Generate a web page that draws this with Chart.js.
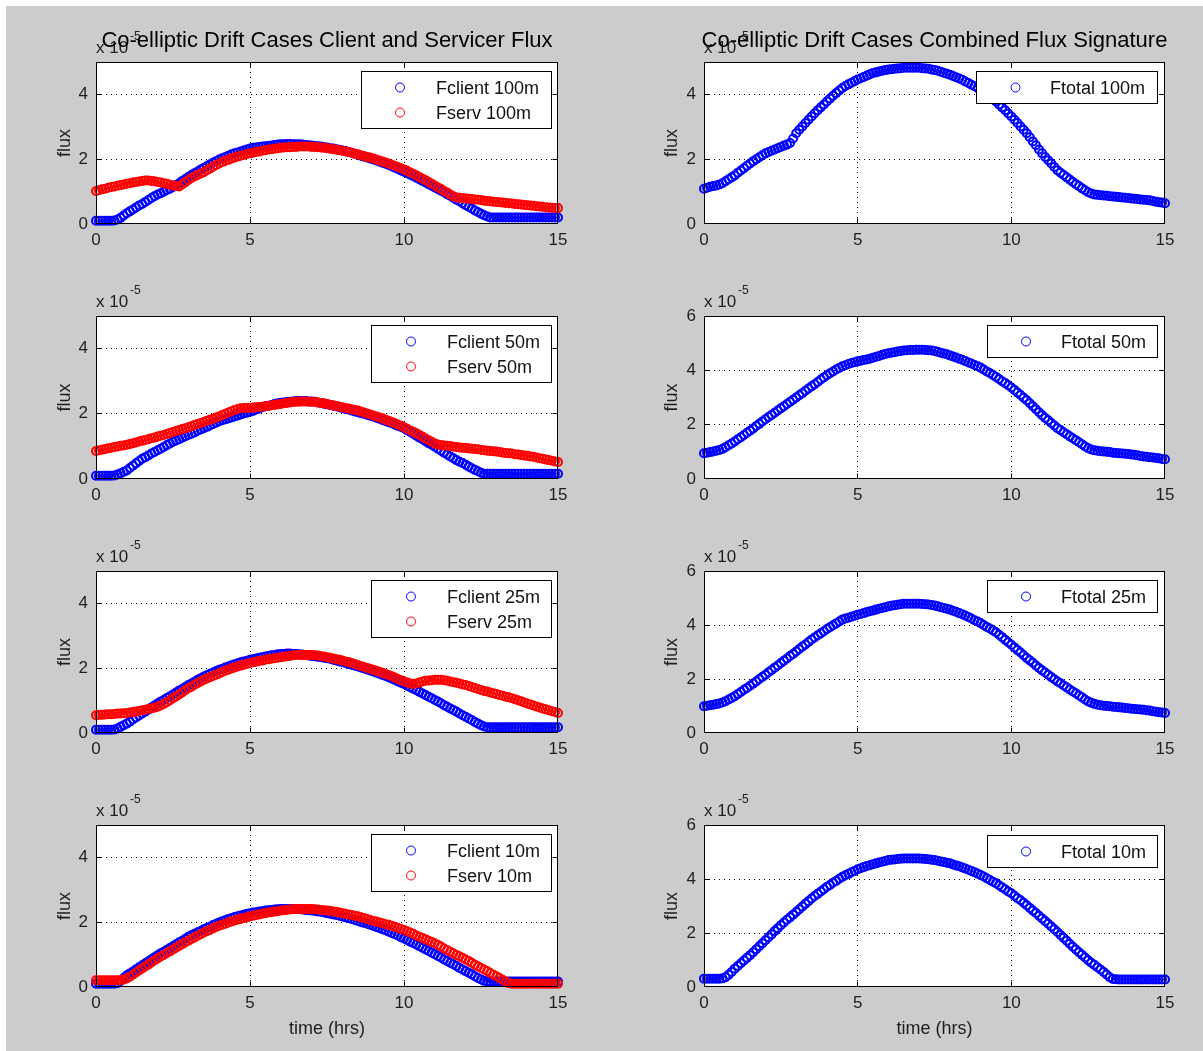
<!DOCTYPE html>
<html>
<head>
<meta charset="utf-8">
<script src="https://cdn.jsdelivr.net/npm/chart.js@4.4.0/dist/chart.umd.min.js"></script>
<style>
html,body{margin:0;padding:0;background:#fff;width:1203px;height:1051px;overflow:hidden;position:relative}
#bg{position:absolute;left:6px;top:6px;width:1197px;height:1045px;background:#cccccc}
.wrap{position:absolute}
.wrap canvas{display:block}
#ov{position:absolute;left:0;top:0;pointer-events:none}
#ov text{font-family:"Liberation Sans",Arial,Helvetica,sans-serif}
</style>
</head>
<body>
<div id="bg"></div>
<div id="charts"></div>
<svg id="ov" width="1203" height="1051" xmlns="http://www.w3.org/2000/svg"></svg>
<script>
// ---------- data (flux in units of 1e-5) ----------
const hours = [
0,0.1,0.2,0.3,0.4,0.5,0.6,0.7,0.8,0.9,
1,1.1,1.2,1.3,1.4,1.5,1.6,1.7,1.8,1.9,
2,2.1,2.2,2.3,2.4,2.5,2.6,2.7,2.8,2.9,
3,3.1,3.2,3.3,3.4,3.5,3.6,3.7,3.8,3.9,
4,4.1,4.2,4.3,4.4,4.5,4.6,4.7,4.8,4.9,
5,5.1,5.2,5.3,5.4,5.5,5.6,5.7,5.8,5.9,
6,6.1,6.2,6.3,6.4,6.5,6.6,6.7,6.8,6.9,
7,7.1,7.2,7.3,7.4,7.5,7.6,7.7,7.8,7.9,
8,8.1,8.2,8.3,8.4,8.5,8.6,8.7,8.8,8.9,
9,9.1,9.2,9.3,9.4,9.5,9.6,9.7,9.8,9.9,
10,10.1,10.2,10.3,10.4,10.5,10.6,10.7,10.8,10.9,
11,11.1,11.2,11.3,11.4,11.5,11.6,11.7,11.8,11.9,
12,12.1,12.2,12.3,12.4,12.5,12.6,12.7,12.8,12.9,
13,13.1,13.2,13.3,13.4,13.5,13.6,13.7,13.8,13.9,
14,14.1,14.2,14.3,14.4,14.5,14.6,14.7,14.8,14.9,
15];

const xTicks = [0,5,10,15];
const yTicksLow = [0,2,4];
const yTicksHigh = [0,2,4,6];

const fclient100 = [
0.10,0.10,0.10,0.10,0.10,0.10,0.11,
0.14,0.19,0.26,0.33,
0.39,0.45,0.51,0.57,0.62, 0.68,0.74,0.80,0.86,0.91,
0.95,1.00,1.05,1.09,1.14, 1.20,1.26,1.33,1.39,1.45,
1.51,1.57,1.62,1.68,1.73, 1.78,1.84,1.89,1.94,1.99,
2.03,2.07,2.11,2.15,2.18, 2.21,2.24,2.27,2.30,2.33,
2.35,2.36,2.38,2.39,2.40, 2.41,2.42,2.44,2.45,2.46,
2.46,2.47,2.47,2.46,2.46, 2.46,2.45,2.44,2.43,2.42,
2.41,2.40,2.39,2.37,2.36, 2.34,2.33,2.31,2.29,2.27,
2.25,2.22,2.20,2.17,2.14, 2.11,2.08,2.05,2.02,1.99,
1.96,1.93,1.89,1.86,1.82, 1.78,1.74,1.70,1.65,1.61,
1.57,1.52,1.48,1.43,1.38, 1.33,1.28,1.23,1.18,1.13,
1.08,1.03,0.98,0.92,0.87, 0.81,0.75,0.70,0.64,0.58,
0.53,0.48,0.42,0.37,0.32, 0.27,0.23,0.20,0.20,0.20,
0.20,0.20,0.20,0.20,0.20,0.20,0.20,0.20,0.20,0.20,
0.20,0.20,0.20,0.20,0.20,0.20,0.20,0.20,0.20,0.20];

const fserv100 = [
1.02,1.04,1.07,1.09,1.12,1.14,1.16,1.18,1.20,1.22,1.24,
1.26,1.28,1.30,1.31,1.33, 1.34,1.34,1.33,1.32,1.30,
1.28,1.26,1.24,1.21,1.19, 1.17,1.16,1.22,1.29,1.36,
1.42,1.47,1.51,1.56,1.60, 1.66,1.71,1.77,1.82,1.87,
1.91,1.95,1.98,2.02,2.05, 2.08,2.11,2.13,2.16,2.18,
2.20,2.22,2.24,2.26,2.28, 2.30,2.31,2.32,2.34,2.35,
2.36,2.37,2.37,2.38,2.38, 2.39,2.39,2.39,2.39,2.38,
2.38,2.37,2.36,2.35,2.34, 2.32,2.31,2.29,2.28,2.26,
2.24,2.22,2.20,2.17,2.15, 2.12,2.10,2.07,2.05,2.02,
1.99,1.96,1.93,1.90,1.87, 1.83,1.80,1.76,1.72,1.68,
1.64,1.59,1.55,1.50,1.45, 1.40,1.35,1.30,1.24,1.19,
1.13,1.08,1.02,0.97,0.91, 0.86,0.82,0.81,0.80,0.79,
0.78,0.77,0.76,0.75,0.74, 0.72,0.71,0.70,0.69,0.68,
0.67,0.66,0.65,0.64,0.63, 0.62,0.61,0.60,0.59,0.58,
0.57,0.56,0.55,0.54,0.53, 0.52,0.51,0.50,0.49,0.49];

const ftotal100 = [
1.09,1.12,1.15,1.17,1.19,1.22,
1.26,1.32,1.38,1.44,1.50, 1.58,1.65,1.72,1.80,1.87,
1.94,2.00,2.06,2.12,2.18, 2.22,2.26,2.30,2.34,2.38,
2.42,2.45,2.50,2.64,2.80, 2.91,3.01,3.12,3.22,3.32,
3.42,3.51,3.60,3.69,3.78, 3.87,3.96,4.04,4.12,4.20,
4.26,4.31,4.36,4.41,4.46, 4.50,4.54,4.58,4.62,4.66,
4.68,4.71,4.73,4.75,4.77, 4.78,4.79,4.80,4.81,4.82,
4.82,4.82,4.82,4.82,4.82, 4.81,4.80,4.79,4.77,4.75,
4.73,4.70,4.67,4.64,4.61, 4.57,4.53,4.49,4.45,4.40,
4.35,4.30,4.25,4.20,4.15, 4.08,4.01,3.93,3.86,3.78,
3.69,3.60,3.51,3.41,3.32, 3.22,3.12,3.01,2.91,2.80,
2.68,2.55,2.43,2.30,2.18, 2.07,1.97,1.87,1.76,1.66,
1.58,1.51,1.44,1.37,1.30, 1.23,1.17,1.10,1.04,0.98,
0.94,0.91,0.90,0.89,0.88, 0.87,0.86,0.85,0.84,0.83,
0.82,0.81,0.80,0.79,0.78, 0.77,0.76,0.75,0.74,0.73,
0.71,0.69,0.67,0.66,0.64];

const fclient50 = [
0.10,0.10,0.10,0.10,0.10,0.10,0.11,
0.14,0.18,0.22,0.26,
0.34,0.41,0.48,0.55,0.62, 0.67,0.72,0.78,0.83,0.88,
0.93,0.98,1.04,1.09,1.14, 1.18,1.22,1.27,1.31,1.35,
1.39,1.43,1.48,1.52,1.56, 1.60,1.64,1.69,1.73,1.77,
1.80,1.83,1.86,1.89,1.92, 1.95,1.98,2.01,2.03,2.06,
2.09,2.13,2.16,2.20,2.23, 2.25,2.27,2.30,2.32,2.34,
2.35,2.36,2.37,2.38,2.39, 2.39,2.39,2.39,2.38,2.38,
2.37,2.35,2.33,2.31,2.29, 2.27,2.25,2.23,2.20,2.18,
2.15,2.13,2.10,2.07,2.05, 2.02,2.00,1.97,1.94,1.92,
1.88,1.85,1.81,1.78,1.74, 1.71,1.67,1.63,1.60,1.56,
1.50,1.44,1.39,1.33,1.27, 1.22,1.16,1.10,1.05,0.99,
0.93,0.87,0.81,0.75,0.69, 0.64,0.58,0.53,0.49,0.44,
0.38,0.33,0.28,0.24,0.19, 0.16,0.16,0.16,0.16,0.16,
0.16,0.16,0.16,0.16,0.16,0.16,0.16,0.16,0.16,0.16,
0.16,0.16,0.16,0.16,0.16,0.16,0.16,0.16,0.16,0.16];

const fserv50 = [
0.86,0.88,0.90,0.92,0.94,0.96,
0.98,1.00,1.02,1.03,1.05, 1.07,1.10,1.12,1.15,1.17,
1.20,1.22,1.25,1.27,1.30, 1.33,1.35,1.38,1.41,1.44,
1.47,1.50,1.53,1.56,1.59, 1.62,1.66,1.69,1.72,1.75,
1.79,1.82,1.85,1.89,1.92, 1.96,2.00,2.04,2.08,2.12,
2.15,2.17,2.18,2.18,2.18, 2.19,2.20,2.21,2.22,2.23,
2.24,2.26,2.27,2.29,2.30, 2.32,2.33,2.35,2.36,2.37,
2.37,2.38,2.38,2.37,2.37, 2.36,2.35,2.33,2.32,2.30,
2.28,2.26,2.24,2.22,2.20, 2.18,2.16,2.14,2.12,2.10,
2.07,2.04,2.01,1.98,1.95, 1.92,1.89,1.86,1.82,1.79,
1.75,1.71,1.67,1.63,1.59, 1.54,1.49,1.45,1.40,1.35,
1.30,1.24,1.19,1.14,1.09, 1.06,1.04,1.03,1.02,1.01,
0.99,0.98,0.97,0.96,0.95, 0.94,0.93,0.92,0.91,0.89,
0.88,0.87,0.86,0.85,0.84, 0.83,0.81,0.80,0.79,0.78,
0.76,0.75,0.74,0.72,0.71, 0.69,0.68,0.66,0.64,0.62,
0.60,0.58,0.56,0.54,0.52];

const ftotal50 = [
0.95,0.97,0.99,1.01,1.04,1.07,
1.11,1.17,1.24,1.31,1.38, 1.46,1.54,1.62,1.70,1.78,
1.86,1.95,2.03,2.12,2.20, 2.28,2.36,2.44,2.52,2.60,
2.68,2.76,2.84,2.92,3.00, 3.08,3.16,3.25,3.33,3.41,
3.49,3.57,3.66,3.74,3.82, 3.89,3.96,4.03,4.09,4.15,
4.19,4.23,4.27,4.30,4.33, 4.35,4.38,4.40,4.43,4.46,
4.50,4.53,4.57,4.60,4.63, 4.65,4.67,4.69,4.71,4.73,
4.74,4.75,4.75,4.76,4.76, 4.76,4.75,4.74,4.73,4.71,
4.68,4.65,4.62,4.59,4.55, 4.51,4.47,4.43,4.39,4.34,
4.29,4.25,4.20,4.15,4.10, 4.03,3.96,3.90,3.83,3.76,
3.68,3.60,3.53,3.45,3.37, 3.28,3.18,3.09,2.99,2.90,
2.79,2.68,2.57,2.46,2.35, 2.25,2.16,2.06,1.97,1.87,
1.80,1.72,1.65,1.57,1.50, 1.43,1.35,1.28,1.20,1.13,
1.09,1.06,1.04,1.02,1.01, 1.00,0.99,0.97,0.96,0.95,
0.94,0.93,0.92,0.90,0.89, 0.87,0.85,0.83,0.82,0.80,
0.79,0.77,0.76,0.74,0.73];

const fclient25 = [
0.10,0.10,0.10,0.10,0.10,0.10,0.11,
0.14,0.19,0.24,0.29,
0.35,0.42,0.48,0.54,0.60, 0.66,0.72,0.79,0.85,0.91,
0.97,1.02,1.08,1.13,1.19, 1.25,1.31,1.36,1.42,1.48,
1.53,1.58,1.64,1.69,1.74, 1.78,1.83,1.87,1.91,1.95,
1.98,2.02,2.05,2.09,2.12, 2.15,2.18,2.21,2.23,2.26,
2.28,2.30,2.32,2.34,2.36, 2.38,2.40,2.41,2.43,2.44,
2.44,2.45,2.45,2.44,2.44, 2.43,2.42,2.41,2.39,2.38,
2.37,2.35,2.34,2.32,2.31, 2.29,2.26,2.24,2.21,2.19,
2.16,2.13,2.11,2.08,2.05, 2.02,1.99,1.96,1.93,1.90,
1.86,1.83,1.79,1.76,1.72, 1.68,1.64,1.59,1.55,1.51,
1.46,1.41,1.37,1.32,1.27, 1.22,1.17,1.12,1.07,1.02,
0.97,0.92,0.86,0.81,0.76, 0.71,0.66,0.60,0.55,0.50,
0.45,0.40,0.34,0.29,0.24, 0.20,0.18,0.18,0.18,0.18,
0.18,0.18,0.18,0.18,0.18,0.18,0.18,0.18,0.18,0.18,
0.18,0.18,0.18,0.18,0.18,0.18,0.18,0.18,0.18,0.18];

const fserv25 = [
0.55,0.56,0.56,0.57,0.58,0.58,
0.59,0.60,0.60,0.61,0.62, 0.63,0.65,0.66,0.68,0.70,
0.72,0.74,0.76,0.78,0.81, 0.85,0.90,0.95,1.01,1.07,
1.13,1.19,1.25,1.32,1.38, 1.43,1.49,1.54,1.59,1.64,
1.68,1.72,1.76,1.80,1.84, 1.88,1.92,1.95,1.99,2.02,
2.05,2.08,2.11,2.13,2.16, 2.18,2.20,2.22,2.24,2.26,
2.28,2.29,2.31,2.32,2.34, 2.35,2.37,2.38,2.40,2.41,
2.41,2.41,2.41,2.41,2.41, 2.40,2.39,2.37,2.36,2.34,
2.32,2.30,2.28,2.26,2.24, 2.21,2.19,2.16,2.13,2.10,
2.07,2.04,2.01,1.98,1.95, 1.92,1.89,1.86,1.82,1.79,
1.75,1.71,1.67,1.63,1.59, 1.56,1.53,1.51,1.53,1.56,
1.59,1.61,1.62,1.63,1.64, 1.64,1.64,1.63,1.61,1.59,
1.57,1.55,1.53,1.50,1.48, 1.45,1.42,1.39,1.36,1.33,
1.30,1.28,1.25,1.23,1.20, 1.17,1.15,1.12,1.10,1.07,
1.04,1.01,0.98,0.94,0.91, 0.88,0.85,0.82,0.79,0.76,
0.73,0.70,0.67,0.65,0.62];

const ftotal25 = [
0.99,1.01,1.03,1.05,1.07,1.09,
1.13,1.18,1.24,1.30,1.36, 1.44,1.52,1.60,1.67,1.75,
1.83,1.91,2.00,2.08,2.16, 2.25,2.33,2.42,2.50,2.59,
2.68,2.76,2.85,2.93,3.02, 3.11,3.20,3.28,3.37,3.46,
3.54,3.62,3.69,3.77,3.85, 3.92,3.99,4.06,4.13,4.20,
4.24,4.27,4.31,4.34,4.38, 4.41,4.44,4.48,4.51,4.54,
4.57,4.60,4.63,4.66,4.69, 4.71,4.73,4.75,4.77,4.79,
4.79,4.79,4.79,4.79,4.79, 4.78,4.77,4.76,4.74,4.72,
4.69,4.66,4.63,4.60,4.57, 4.53,4.49,4.44,4.40,4.35,
4.30,4.24,4.18,4.13,4.07, 4.00,3.93,3.87,3.80,3.73,
3.64,3.55,3.45,3.36,3.27, 3.17,3.07,2.98,2.88,2.78,
2.69,2.60,2.50,2.41,2.32, 2.24,2.16,2.07,1.99,1.91,
1.84,1.76,1.69,1.61,1.54, 1.47,1.39,1.32,1.24,1.17,
1.12,1.08,1.05,1.03,1.01, 1.00,0.99,0.97,0.96,0.95,
0.94,0.93,0.92,0.90,0.89, 0.88,0.87,0.86,0.84,0.83,
0.81,0.79,0.77,0.76,0.74];

const fclient10 = [
0.10,0.10,0.10,0.10,0.10,0.10,0.10,
0.12,0.19,0.28,0.36,
0.42,0.48,0.55,0.61,0.67, 0.73,0.79,0.86,0.92,0.98,
1.04,1.09,1.15,1.20,1.26, 1.32,1.38,1.43,1.49,1.55,
1.60,1.64,1.69,1.73,1.78, 1.82,1.86,1.91,1.95,1.99,
2.03,2.06,2.10,2.13,2.16, 2.18,2.21,2.23,2.26,2.28,
2.30,2.31,2.33,2.34,2.36, 2.37,2.38,2.39,2.40,2.41,
2.41,2.41,2.41,2.41,2.41, 2.40,2.39,2.38,2.37,2.36,
2.35,2.33,2.32,2.30,2.28, 2.26,2.24,2.22,2.20,2.18,
2.15,2.12,2.10,2.07,2.04, 2.01,1.98,1.95,1.92,1.89,
1.85,1.82,1.78,1.75,1.71, 1.67,1.63,1.59,1.54,1.50,
1.45,1.40,1.36,1.31,1.26, 1.21,1.16,1.11,1.06,1.01,
0.96,0.91,0.85,0.80,0.75, 0.70,0.65,0.59,0.54,0.49,
0.44,0.39,0.33,0.28,0.23, 0.19,0.17,0.17,0.17,0.17,
0.17,0.17,0.17,0.17,0.17,0.17,0.17,0.17,0.17,0.17,
0.17,0.17,0.17,0.17,0.17,0.17,0.17,0.17,0.17,0.17];

const fserv10 = [
0.21,0.21,0.21,0.21,0.21,0.21,
0.21,0.21,0.21,0.23,0.26, 0.32,0.38,0.45,0.51,0.57,
0.63,0.69,0.76,0.82,0.88, 0.94,0.99,1.05,1.10,1.16,
1.21,1.27,1.32,1.38,1.43, 1.48,1.53,1.58,1.63,1.68,
1.72,1.76,1.81,1.85,1.89, 1.92,1.95,1.99,2.02,2.05,
2.08,2.10,2.13,2.15,2.18, 2.20,2.22,2.24,2.26,2.28,
2.30,2.31,2.33,2.34,2.36, 2.37,2.38,2.39,2.40,2.41,
2.41,2.41,2.41,2.41,2.41, 2.40,2.39,2.38,2.37,2.36,
2.35,2.33,2.32,2.30,2.28, 2.26,2.24,2.22,2.20,2.18,
2.15,2.13,2.10,2.07,2.04, 2.02,1.99,1.97,1.94,1.92,
1.89,1.86,1.83,1.79,1.76, 1.72,1.68,1.64,1.59,1.55,
1.51,1.47,1.43,1.39,1.35, 1.30,1.25,1.19,1.14,1.09,
1.04,0.99,0.95,0.90,0.85, 0.80,0.75,0.69,0.64,0.59,
0.54,0.49,0.43,0.38,0.33, 0.28,0.22,0.17,0.12,0.10,
0.10,0.10,0.10,0.10,0.10,0.10,0.10,0.10,0.10,0.10,
0.10,0.10,0.10,0.10,0.10];

const ftotal10 = [
0.31,0.31,0.31,0.31,0.31,0.31,
0.32,0.36,0.45,0.56,0.68, 0.78,0.88,0.98,1.08,1.18,
1.29,1.40,1.51,1.62,1.73, 1.84,1.95,2.07,2.18,2.29,
2.39,2.49,2.58,2.68,2.78, 2.88,2.98,3.08,3.18,3.28,
3.37,3.45,3.54,3.62,3.71, 3.78,3.86,3.93,4.01,4.08,
4.14,4.19,4.25,4.30,4.36, 4.40,4.44,4.48,4.51,4.55,
4.58,4.61,4.64,4.67,4.70, 4.71,4.72,4.74,4.75,4.76,
4.76,4.76,4.76,4.76,4.76, 4.75,4.74,4.73,4.71,4.70,
4.68,4.65,4.63,4.60,4.58, 4.54,4.50,4.47,4.43,4.39,
4.34,4.30,4.25,4.20,4.15, 4.09,4.03,3.96,3.90,3.84,
3.77,3.69,3.62,3.54,3.47, 3.38,3.29,3.21,3.12,3.03,
2.93,2.83,2.74,2.64,2.54, 2.44,2.34,2.24,2.14,2.04,
1.93,1.82,1.71,1.60,1.49, 1.39,1.29,1.19,1.09,0.99,
0.90,0.82,0.73,0.65,0.56, 0.46,0.36,0.30,0.29,0.28,
0.28,0.28,0.28,0.28,0.28,0.28,0.28,0.28,0.28,0.28,
0.28,0.28,0.28,0.28,0.28];

const titleLeft = 'Co-elliptic Drift Cases Client and Servicer Flux';
const titleRight = 'Co-elliptic Drift Cases Combined Flux Signature';
const xLabel = 'time (hrs)';
const yLabel = 'flux';
const exponentBase = 'x 10';
const exponentPower = '-5';

// ---------- layout ----------
const FONT = '"Liberation Sans", Arial, Helvetica, sans-serif';
const BLUE = '#0000ff', RED = '#ff0000';
const LEFT_COL = {l:96, r:558};
const RIGHT_COL = {l:704, r:1165};
const ROWS = [{t:62,b:224},{t:316,b:479},{t:571,b:733},{t:825,b:987}];

const panels = [
  {col:LEFT_COL,  row:0, ymax:5, yt:yTicksLow,  series:[['Fclient 100m',fclient100,BLUE],['Fserv 100m',fserv100,RED]],
   leg:{x:361.5,y:71.5,w:190,h:57,mx:400,tx:436}},
  {col:RIGHT_COL, row:0, ymax:5, yt:yTicksLow,  series:[['Ftotal 100m',ftotal100,BLUE]],
   leg:{x:976.5,y:71.5,w:181,h:32,mx:1015.5,tx:1050}},
  {col:LEFT_COL,  row:1, ymax:5, yt:yTicksLow,  series:[['Fclient 50m',fclient50,BLUE],['Fserv 50m',fserv50,RED]],
   leg:{x:371.5,y:325.5,w:180,h:57,mx:411,tx:447}},
  {col:RIGHT_COL, row:1, ymax:6, yt:yTicksHigh, series:[['Ftotal 50m',ftotal50,BLUE]],
   leg:{x:987.5,y:325.5,w:170,h:32,mx:1026,tx:1061}},
  {col:LEFT_COL,  row:2, ymax:5, yt:yTicksLow,  series:[['Fclient 25m',fclient25,BLUE],['Fserv 25m',fserv25,RED]],
   leg:{x:371.5,y:580.5,w:180,h:57,mx:411,tx:447}},
  {col:RIGHT_COL, row:2, ymax:6, yt:yTicksHigh, series:[['Ftotal 25m',ftotal25,BLUE]],
   leg:{x:987.5,y:580.5,w:170,h:32,mx:1026,tx:1061}},
  {col:LEFT_COL,  row:3, ymax:5, yt:yTicksLow,  series:[['Fclient 10m',fclient10,BLUE],['Fserv 10m',fserv10,RED]],
   leg:{x:371.5,y:834.5,w:180,h:57,mx:411,tx:447}},
  {col:RIGHT_COL, row:3, ymax:6, yt:yTicksHigh, series:[['Ftotal 10m',ftotal10,BLUE]],
   leg:{x:987.5,y:835.5,w:170,h:32,mx:1026,tx:1061}},
];

panels.forEach(p => p.series.forEach(s => {
  if (s[1].length !== hours.length) throw new Error(s[0] + ' has ' + s[1].length + ' values');
}));

const PAD_L = 44, PAD_T = 24, PAD_R = 22, PAD_B = 30;

const boxPlugin = {
  id: 'matlabBox',
  beforeDraw(chart) {
    const {ctx, chartArea: a} = chart;
    ctx.save();
    ctx.fillStyle = '#ffffff';
    ctx.fillRect(a.left, a.top, a.right - a.left, a.bottom - a.top);
    ctx.restore();
  },
  afterDatasetsDraw(chart) {
    const {ctx, chartArea: a, scales: {x, y}} = chart;
    const L = Math.round(a.left) + 0.5, R = Math.round(a.right) - 0.5;
    const T = Math.round(a.top) + 0.5, B = Math.round(a.bottom) - 0.5;
    ctx.save();
    ctx.strokeStyle = '#000';
    ctx.lineWidth = 1;
    ctx.strokeRect(L, T, R - L, B - T);
    ctx.beginPath();
    x.ticks.forEach(t => {
      if (t.value <= x.min || t.value >= x.max) return;
      const px = Math.floor(x.getPixelForValue(t.value)) + 0.5;
      ctx.moveTo(px, B); ctx.lineTo(px, B - 5);
      ctx.moveTo(px, T); ctx.lineTo(px, T + 5);
    });
    y.ticks.forEach(t => {
      if (t.value <= y.min || t.value >= y.max) return;
      const py = Math.floor(y.getPixelForValue(t.value)) + 0.5;
      ctx.moveTo(L, py); ctx.lineTo(L + 5, py);
      ctx.moveTo(R, py); ctx.lineTo(R - 5, py);
    });
    ctx.stroke();
    ctx.restore();
  }
};

const holder = document.getElementById('charts');

panels.forEach((p, idx) => {
  const row = ROWS[p.row];
  const bw = p.col.r - p.col.l, bh = row.b - row.t;
  const W = bw + PAD_L + PAD_R, H = bh + PAD_T + PAD_B;
  const wrap = document.createElement('div');
  wrap.className = 'wrap';
  wrap.style.left = (p.col.l - PAD_L) + 'px';
  wrap.style.top = (row.t - PAD_T) + 'px';
  wrap.style.width = W + 'px';
  wrap.style.height = H + 'px';
  const cv = document.createElement('canvas');
  cv.width = W; cv.height = H;
  cv.style.width = W + 'px'; cv.style.height = H + 'px';
  wrap.appendChild(cv);
  holder.appendChild(wrap);

  const datasets = p.series.map((s, i) => ({
    label: s[0],
    data: hours.map((h, k) => ({x: h, y: s[1][k]})),
    showLine: false,
    pointStyle: 'circle',
    pointRadius: 4,
    pointBorderWidth: 2,
    pointBackgroundColor: 'rgba(0,0,0,0)',
    pointBorderColor: s[2],
    borderColor: s[2],
    backgroundColor: 'rgba(0,0,0,0)',
    clip: false,
    order: p.series.length - i
  }));

  const gridColor = (ax) => (c) => {
    const v = c.tick ? c.tick.value : null;
    if (v === null) return 'rgba(0,0,0,0)';
    const max = ax === 'x' ? 15 : p.ymax;
    return (v <= 0 || v >= max) ? 'rgba(0,0,0,0)' : '#000000';
  };

  new Chart(cv, {
    type: 'scatter',
    data: {datasets},
    plugins: [boxPlugin],
    options: {
      responsive: false,
      animation: false,
      devicePixelRatio: 1,
      events: [],
      layout: {padding: {left: 0, top: PAD_T, right: PAD_R, bottom: 0}},
      plugins: {legend: {display: false}, tooltip: {enabled: false}, title: {display: false}},
      scales: {
        x: {
          type: 'linear', min: 0, max: 15,
          afterBuildTicks: s => { s.ticks = xTicks.map(v => ({value: v})); },
          afterFit: s => { s.height = PAD_B; },
          grid: {drawTicks: false, color: gridColor('x'), lineWidth: 1},
          border: {display: false, dash: [1, 4]},
          ticks: {padding: 6, color: '#1e1e1e', font: {family: FONT, size: 17}, maxRotation: 0, autoSkip: false}
        },
        y: {
          type: 'linear', min: 0, max: p.ymax,
          afterBuildTicks: s => { s.ticks = p.yt.map(v => ({value: v})); },
          afterFit: s => { s.width = PAD_L; },
          grid: {drawTicks: false, color: gridColor('y'), lineWidth: 1},
          border: {display: false, dash: [1, 4]},
          ticks: {padding: 8, color: '#1e1e1e', font: {family: FONT, size: 17}, autoSkip: false}
        }
      }
    }
  });
});

// ---------- overlay text (titles, labels, legends) ----------
const svg = document.getElementById('ov');
const NS = 'http://www.w3.org/2000/svg';
function el(tag, attrs, text) {
  const e = document.createElementNS(NS, tag);
  for (const k in attrs) e.setAttribute(k, attrs[k]);
  if (text !== undefined) e.textContent = text;
  svg.appendChild(e);
  return e;
}

panels.forEach(p => {
  const row = ROWS[p.row];
  el('text', {x: p.col.l, y: row.t - 9, 'font-size': 17, fill: '#1e1e1e'}, exponentBase);
  el('text', {x: p.col.l + 34, y: row.t - 22, 'font-size': 12, fill: '#1e1e1e'}, exponentPower);
  const cy = (row.t + row.b) / 2;
  const lx = p.col === LEFT_COL ? 70 : 677;
  el('text', {x: 0, y: 0, 'font-size': 18, fill: '#1e1e1e', 'text-anchor': 'middle',
              transform: `translate(${lx},${cy}) rotate(-90)`}, yLabel);
  const g = p.leg;
  el('rect', {x: g.x, y: g.y, width: g.w, height: g.h, fill: '#ffffff', stroke: '#000000', 'stroke-width': 1});
  p.series.forEach((s, i) => {
    const my = g.y + 16 + i * 25;
    el('circle', {cx: g.mx, cy: my, r: 4.5, fill: 'none', stroke: s[2], 'stroke-width': 1});
    el('text', {x: g.tx, y: my + 6.5, 'font-size': 18, fill: '#111111'}, s[0]);
  });
});

el('text', {x: (LEFT_COL.l + LEFT_COL.r) / 2, y: 47, 'font-size': 22, fill: '#000', 'text-anchor': 'middle'}, titleLeft);
el('text', {x: (RIGHT_COL.l + RIGHT_COL.r) / 2, y: 47, 'font-size': 22, fill: '#000', 'text-anchor': 'middle'}, titleRight);
el('text', {x: (LEFT_COL.l + LEFT_COL.r) / 2, y: 1034, 'font-size': 18, fill: '#1e1e1e', 'text-anchor': 'middle'}, xLabel);
el('text', {x: (RIGHT_COL.l + RIGHT_COL.r) / 2, y: 1034, 'font-size': 18, fill: '#1e1e1e', 'text-anchor': 'middle'}, xLabel);
</script>
</body>
</html>
